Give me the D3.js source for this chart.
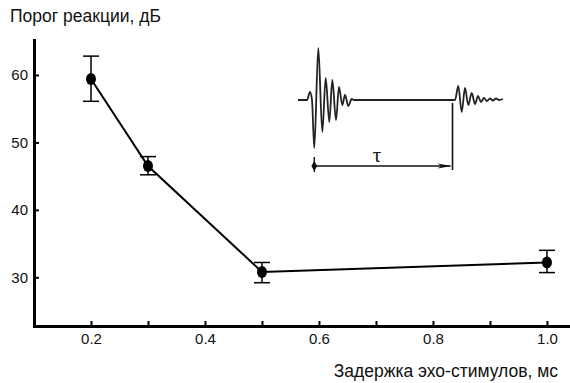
<!DOCTYPE html>
<html>
<head>
<meta charset="utf-8">
<script src="https://cdn.jsdelivr.net/npm/d3@7"></script>
<style>
  body { margin: 0; background: #fff; }
  text { font-family: "Liberation Sans", Arial, sans-serif; fill: #111; }
</style>
</head>
<body>
<div id="chart"></div>
<script>
// echo delay, ms
const delays = [0.2, 0.3, 0.5, 1.0];
// response threshold, dB
const thresholds = [59.4, 46.5, 30.8, 32.2];
const errHigh = [62.8, 47.9, 32.2, 34.0];
const errLow = [56.1, 45.2, 29.2, 30.7];

const xTicks = [0.2, 0.3, 0.4, 0.5, 0.6, 0.7, 0.8, 0.9, 1.0];
const xLabeled = [0.2, 0.4, 0.6, 0.8, 1.0];
const yTicks = [30, 40, 50, 60];

// inset sketch: stimulus + echo waveform (time offset, amplitude)
const waveT = [0, 9, 12, 14, 16.3, 20.3, 24.3, 27.7, 31.3, 34.3, 38, 41, 44.3, 47, 50.3, 53.7, 56,
  157, 160.3, 163.7, 167, 170.3, 173.7, 177, 180, 183, 186, 189, 192, 195, 198, 201, 205];
const waveA = [0, 0, 8, 0, -48, 52, -32, 22, -22, 20, -20, 13, -5, 5, -6, 1, 0,
  0, 14, -12, 12, -5, 7, -4, 4, -2, 2, -1, 1.5, -0.5, 1.5, 0, 1];
const delayMarkT = [16.3, 154.5];

const width = 570, height = 383;
const margin = { top: 40, right: 0, bottom: 57, left: 34 };

const svg = d3.select("#chart")
  .append("svg")
  .attr("width", width)
  .attr("height", height);

const x = d3.scaleLinear().domain([0.1, 1.0404]).range([margin.left, width - margin.right]);
const y = d3.scaleLinear().domain([22.78, 65.19]).range([height - margin.bottom, margin.top]);

// axes
const xAxis = svg.append("g")
  .attr("transform", "translate(0," + (height - margin.bottom) + ")")
  .call(d3.axisBottom(x)
    .tickValues(xTicks)
    .tickSizeInner(-5)
    .tickSizeOuter(0)
    .tickPadding(7.5)
    .tickFormat(d => xLabeled.some(v => Math.abs(v - d) < 1e-9) ? d3.format(".1f")(d) : ""));

const yAxis = svg.append("g")
  .attr("transform", "translate(" + margin.left + ",0)")
  .call(d3.axisLeft(y)
    .tickValues(yTicks)
    .tickSizeInner(-5)
    .tickSizeOuter(0)
    .tickPadding(6));

[xAxis, yAxis].forEach(g => {
  g.select(".domain").attr("stroke", "#000").attr("stroke-width", 3).attr("stroke-linecap", "square");
  g.selectAll(".tick line").attr("stroke", "#000").attr("stroke-width", 2);
  g.selectAll("text").style("font-size", "15px").attr("fill", "#111");
});

// titles
svg.append("text")
  .attr("x", 10)
  .attr("y", 22)
  .style("font-size", "17.5px")
  .text("Порог реакции, дБ");

svg.append("text")
  .attr("x", 558)
  .attr("y", 377)
  .attr("text-anchor", "end")
  .style("font-size", "17.5px")
  .text("Задержка эхо-стимулов, мс");

// data line
const points = delays.map((d, i) => ({ x: d, y: thresholds[i], hi: errHigh[i], lo: errLow[i] }));

svg.append("path")
  .datum(points)
  .attr("fill", "none")
  .attr("stroke", "#000")
  .attr("stroke-width", 2)
  .attr("d", d3.line().x(d => x(d.x)).y(d => y(d.y)));

// error bars
const eb = svg.append("g").attr("stroke", "#000").attr("stroke-width", 1.5);
points.forEach(p => {
  eb.append("line").attr("x1", x(p.x)).attr("x2", x(p.x)).attr("y1", y(p.hi)).attr("y2", y(p.lo));
  eb.append("line").attr("x1", x(p.x) - 8).attr("x2", x(p.x) + 8).attr("y1", y(p.hi)).attr("y2", y(p.hi));
  eb.append("line").attr("x1", x(p.x) - 8).attr("x2", x(p.x) + 8).attr("y1", y(p.lo)).attr("y2", y(p.lo));
});

svg.selectAll("ellipse.pt")
  .data(points)
  .enter()
  .append("ellipse")
  .attr("class", "pt")
  .attr("cx", d => x(d.x))
  .attr("cy", d => y(d.y))
  .attr("rx", 5)
  .attr("ry", 6)
  .attr("fill", "#000");

// inset
const ix = d3.scaleLinear().domain([0, 205]).range([298, 503]);
const iy = d3.scaleLinear().domain([-52, 52]).range([152, 48]);
const wave = waveT.map((t, i) => [t, waveA[i]]);

const inset = svg.append("g");

inset.append("path")
  .datum(wave)
  .attr("fill", "none")
  .attr("stroke", "#222")
  .attr("stroke-width", 1.8)
  .attr("d", d3.line().x(d => ix(d[0])).y(d => iy(d[1])).curve(d3.curveMonotoneX));

const arrowY = 166;
inset.append("line")
  .attr("x1", ix(delayMarkT[1])).attr("x2", ix(delayMarkT[1]))
  .attr("y1", iy(-3)).attr("y2", 170)
  .attr("stroke", "#111").attr("stroke-width", 1.6);

inset.append("line")
  .attr("x1", ix(delayMarkT[0])).attr("x2", ix(delayMarkT[1]) - 2)
  .attr("y1", arrowY).attr("y2", arrowY)
  .attr("stroke", "#111").attr("stroke-width", 1.4);

inset.append("line")
  .attr("x1", ix(delayMarkT[0])).attr("x2", ix(delayMarkT[0]))
  .attr("y1", 157).attr("y2", 172)
  .attr("stroke", "#111").attr("stroke-width", 1.4);

inset.append("path")
  .attr("d", d3.symbol(d3.symbolDiamond, 30)())
  .attr("transform", "translate(" + ix(delayMarkT[0]) + "," + arrowY + ")")
  .attr("fill", "#111");

const ax = ix(delayMarkT[1]) - 1;
inset.append("path")
  .attr("d", "M" + ax + "," + arrowY + "L" + (ax - 14) + "," + (arrowY - 2.5) + "L" + (ax - 10) + "," + arrowY + "L" + (ax - 14) + "," + (arrowY + 2.5) + "Z")
  .attr("fill", "#111");

inset.append("text")
  .attr("x", 377)
  .attr("y", 162)
  .attr("text-anchor", "middle")
  .style("font-family", "'Liberation Serif', 'DejaVu Serif', serif")
  .style("font-size", "21px")
  .text("τ");
</script>
</body>
</html>
